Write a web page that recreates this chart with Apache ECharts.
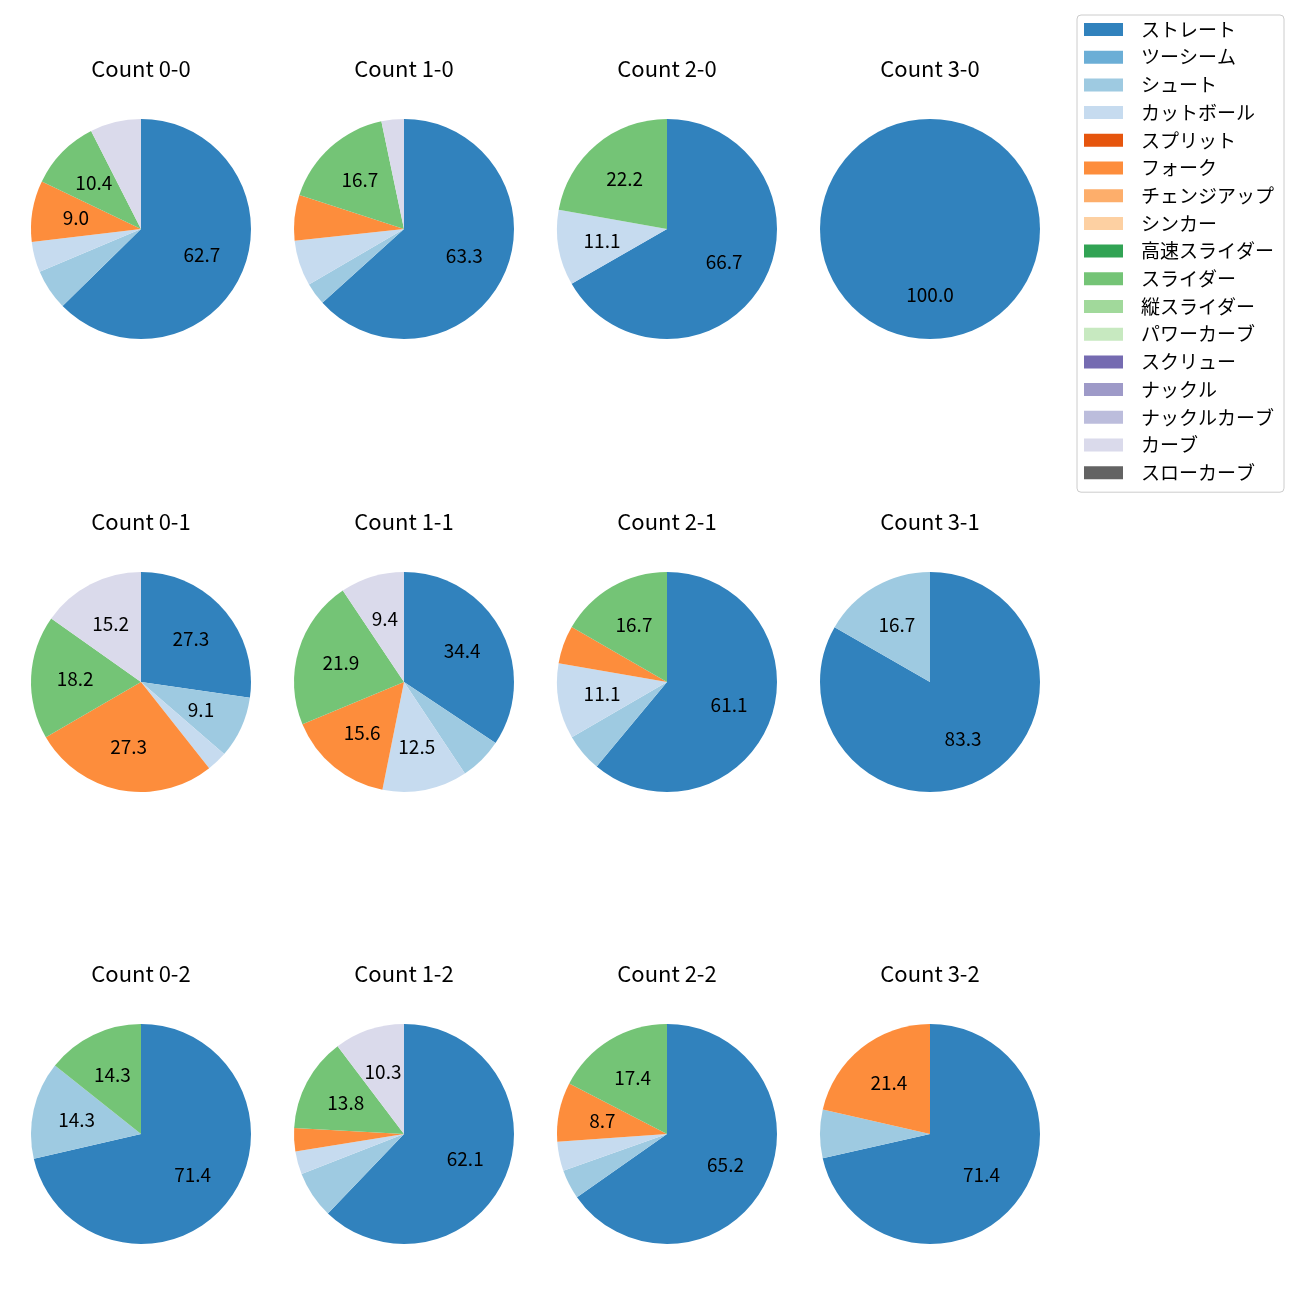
<!DOCTYPE html>
<html>
<head>
<meta charset="utf-8">
<script src="https://cdn.jsdelivr.net/npm/echarts@6/dist/echarts.min.js"></script>
<style>
html,body{margin:0;padding:0;background:#fff;}
#chart{width:1300px;height:1300px;}
</style>
</head>
<body>
<div id="chart"></div>
<script>
// ---- data ----
const categories = ['ストレート','ツーシーム','シュート','カットボール','スプリット','フォーク','チェンジアップ','シンカー','高速スライダー','スライダー','縦スライダー','パワーカーブ','スクリュー','ナックル','ナックルカーブ','カーブ','スローカーブ'];
const titles = ['Count 0-0','Count 1-0','Count 2-0','Count 3-0','Count 0-1','Count 1-1','Count 2-1','Count 3-1','Count 0-2','Count 1-2','Count 2-2','Count 3-2'];
//                 ストレ ツー  シュ  カット スプ フォーク チェ シン 高速 スラ 縦ス パワ スク ナッ ナカ カーブ スロ
const count00 = [62.7, 0, 6.0, 4.5, 0, 9.0, 0, 0, 0, 10.4, 0, 0, 0, 0, 0, 7.5, 0];
const count10 = [63.3, 0, 3.3, 6.7, 0, 6.7, 0, 0, 0, 16.7, 0, 0, 0, 0, 0, 3.3, 0];
const count20 = [66.7, 0, 0, 11.1, 0, 0, 0, 0, 0, 22.2, 0, 0, 0, 0, 0, 0, 0];
const count30 = [100.0, 0, 0, 0, 0, 0, 0, 0, 0, 0, 0, 0, 0, 0, 0, 0, 0];
const count01 = [27.3, 0, 9.1, 3.0, 0, 27.3, 0, 0, 0, 18.2, 0, 0, 0, 0, 0, 15.2, 0];
const count11 = [34.4, 0, 6.3, 12.5, 0, 15.6, 0, 0, 0, 21.9, 0, 0, 0, 0, 0, 9.4, 0];
const count21 = [61.1, 0, 5.6, 11.1, 0, 5.6, 0, 0, 0, 16.7, 0, 0, 0, 0, 0, 0, 0];
const count31 = [83.3, 0, 16.7, 0, 0, 0, 0, 0, 0, 0, 0, 0, 0, 0, 0, 0, 0];
const count02 = [71.4, 0, 14.3, 0, 0, 0, 0, 0, 0, 14.3, 0, 0, 0, 0, 0, 0, 0];
const count12 = [62.1, 0, 6.9, 3.4, 0, 3.4, 0, 0, 0, 13.8, 0, 0, 0, 0, 0, 10.3, 0];
const count22 = [65.2, 0, 4.3, 4.3, 0, 8.7, 0, 0, 0, 17.4, 0, 0, 0, 0, 0, 0, 0];
const count32 = [71.4, 0, 7.1, 0, 0, 21.4, 0, 0, 0, 0, 0, 0, 0, 0, 0, 0, 0];
const pies = [count00,count10,count20,count30,count01,count11,count21,count31,count02,count12,count22,count32];

// ---- style ----
const colors = ['#3182bd','#6baed6','#9ecae1','#c6dbef','#e6550d','#fd8d3c','#fdae6b','#fdd0a2','#31a354','#74c476','#a1d99b','#c7e9c0','#756bb1','#9e9ac8','#bcbddc','#dadaeb','#636363'];
const FONT = "'Noto Sans CJK JP', 'Noto Sans', sans-serif";
const colX = [141, 404, 667, 930];
const rowY = [229, 682, 1134];
const R = 110;
const LABEL_MIN = 8;

const series = [];
const title = [];
pies.forEach((vals, i) => {
  const cx = colX[i % 4], cy = rowY[Math.floor(i / 4)];
  title.push({
    text: titles[i], left: cx, top: cy - 171, textAlign: 'center', padding: 0,
    textStyle: {fontFamily: FONT, fontSize: 22, fontWeight: 'normal', color: '#000', lineHeight: 22}
  });
  series.push({
    type: 'pie', center: [cx, cy], radius: [0, R], startAngle: 90, clockwise: true,
    silent: true, animation: false, label: {show: false}, labelLine: {show: false},
    emphasis: {disabled: true},
    data: categories.map((c, k) => ({name: c, value: vals[k], itemStyle: {color: colors[k]}}))
  });
  // label layer: ring midpoint near 0.6 R (matplotlib pctdistance)
  series.push({
    type: 'pie', center: [cx, cy], radius: [0.145 * R, R], startAngle: 90, clockwise: true,
    silent: true, animation: false, labelLine: {show: false},
    itemStyle: {color: 'rgba(0,0,0,0)'},
    emphasis: {disabled: true},
    label: {
      show: true, position: 'inside', color: '#000', fontFamily: FONT, fontSize: 19,
      formatter: p => (p.value >= LABEL_MIN ? p.value.toFixed(1) : '')
    },
    data: categories.map((c, k) => ({name: c + '#lbl', value: vals[k]}))
  });
});

const chart = echarts.init(document.getElementById('chart'), null, {renderer: 'canvas'});
chart.setOption({
  backgroundColor: '#fff',
  animation: false,
  title: title,
  legend: {
    data: categories,
    orient: 'vertical', left: 1077, top: 15,
    padding: [5, 10, 10, 7],
    itemWidth: 39, itemHeight: 13, itemGap: 8.7,
    icon: 'rect',
    backgroundColor: '#fff', borderColor: '#cccccc', borderWidth: 1, borderRadius: 4,
    selectedMode: false,
    textStyle: {fontFamily: FONT, fontSize: 19, color: '#000', lineHeight: 19, padding: [0, 0, 0, 13]}
  },
  series: series
});
</script>
</body>
</html>
